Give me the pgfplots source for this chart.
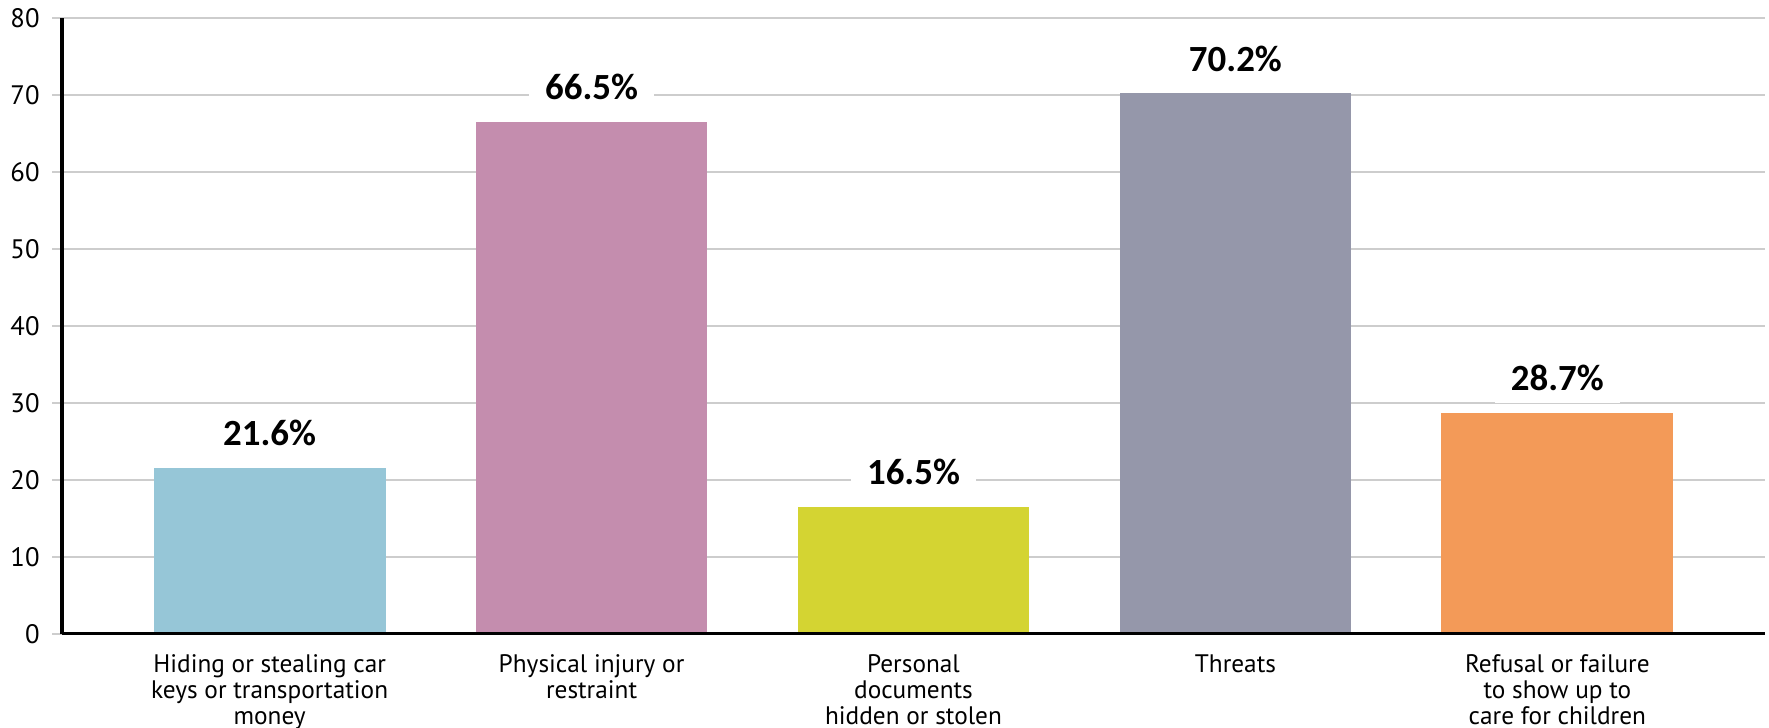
\documentclass[border=0pt]{standalone}
\usepackage{fontspec}
\setmainfont{PT Sans}
\newfontfamily\valfont{Carlito}
\usepackage{pgfplots}
\pgfplotsset{compat=1.18}
\definecolor{cBlue}{RGB}{150,198,215}
\definecolor{cPink}{RGB}{196,141,174}
\definecolor{cLime}{RGB}{212,212,50}
\definecolor{cSlate}{RGB}{149,151,170}
\definecolor{cOrange}{RGB}{243,154,88}
\definecolor{gridgray}{RGB}{205,205,205}
\begin{document}
\begin{tikzpicture}
\begin{axis}[
  at={(0,0)}, anchor=south west,
  scale only axis,
  width=170.3mm, height=61.6mm,
  xmin=-0.645, xmax=4.645,
  ymin=0, ymax=80,
  ytick={0,10,...,80},
  xtick={0,1,2,3,4},
  xticklabels={{Hiding or stealing car\\keys or transportation\\money},
               {Physical injury or\\restraint},
               {Personal\\documents\\hidden or stolen},
               {Threats},
               {Refusal or failure\\to show up to\\care for children}},
  axis lines*=left,
  x axis line style={draw=none},
  y axis line style={black, line width=1.1pt},
  ymajorgrids,
  grid style={gridgray, line width=0.2mm},
  ytick align=outside,
  major tick length=1mm,
  ytick style={gridgray, line width=0.2mm},
  xtick style={draw=none},
  /pgf/number format/assume math mode=true,
  yticklabel style={font=\fontsize{7.6}{9}\selectfont},
  xticklabel style={font=\fontsize{7.2}{7.3}\selectfont, align=center, anchor=north, yshift=0.15mm},
  ybar, bar shift=0pt, bar width=0.72,
  point meta=explicit symbolic,
  nodes near coords,
  every node near coord/.append style={anchor=center, yshift=3.5mm,
    fill=white, inner xsep=1.6mm, inner ysep=1.2mm,
    font=\valfont\bfseries\fontsize{10.5}{12}\selectfont},
]
\addplot[fill=cBlue, draw=none] coordinates {(0,21.6) [21.6\%]};
\addplot[fill=cPink, draw=none] coordinates {(1,66.5) [66.5\%]};
\addplot[fill=cLime, draw=none] coordinates {(2,16.5) [16.5\%]};
\addplot[fill=cSlate, draw=none] coordinates {(3,70.2) [70.2\%]};
\addplot[fill=cOrange, draw=none] coordinates {(4,28.7) [28.7\%]};
% baseline drawn over the bar feet
\draw[black, line width=1.3pt] (rel axis cs:0,0) -- (rel axis cs:1,0);
\end{axis}
\pgfresetboundingbox
\path[use as bounding box] (-6.2mm,-9.3mm) rectangle (170.7mm,63.4mm);
\end{tikzpicture}
\end{document}
